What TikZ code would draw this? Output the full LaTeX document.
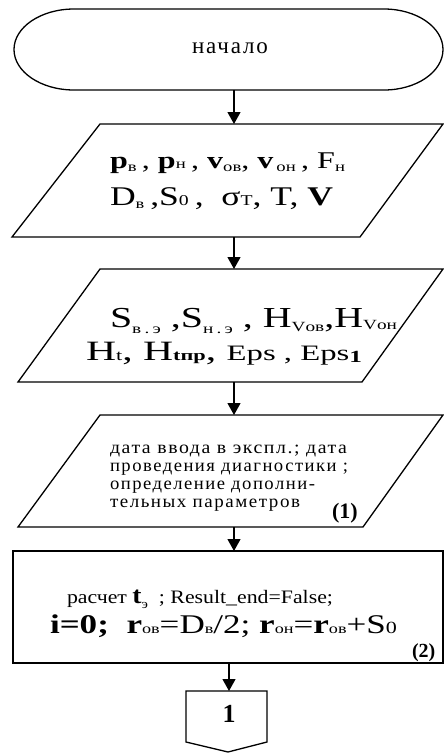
\documentclass[tikz,border=0pt]{standalone}
\usepackage{fontspec}
\usepackage{graphicx}
\setmainfont{Liberation Serif}
\newfontfamily\wideserif[LetterSpace=8]{Liberation Serif}
\usetikzlibrary{arrows.meta}
\newcommand{\fs}[1]{\fontsize{#1}{#1}\selectfont}
\newcommand{\dn}[3]{\raisebox{-#1pt}{\fontsize{#2}{#2}\selectfont #3}}
\newcommand{\fitw}[2]{\resizebox{#1pt}{\height}{#2}}
\begin{document}
\begin{tikzpicture}[x=1pt,y=-1pt,
  outline/.style={draw, line width=1.3pt, line join=miter},
  flow/.style={-{Triangle[length=12pt,width=13pt]}, line width=1.2pt},
  txt/.style={anchor=base west, inner sep=0pt, outer sep=0pt}]
\useasboundingbox (0,0) rectangle (444,753);
% terminator
\draw[outline] (74,9) -- (384,9) arc[start angle=-90, end angle=90, x radius=59, y radius=40.5]
  -- (74,90) arc[start angle=90, end angle=270, x radius=60, y radius=40.5] -- cycle;
\node[inner sep=0pt] (start) at (230,48) {\wideserif\fs{23}начало};
\coordinate (startbot) at (234,90);
% parallelogram 1
\draw[outline] (100,124) -- (443,124) -- (360,237) -- (12,237) -- cycle;
\coordinate (p1top) at (234,124);
\coordinate (p1bot) at (234,237);
\node[txt] (p1a) at (110,168) {\fitw{235}{\fs{24}\textbf{p}\dn{3}{14}{в}\,, \textbf{p}\dn{0}{14}{н}\,, \textbf{v}\dn{3}{14}{ов}, \textbf{v}\dn{3}{14}{\,он}\,, F\dn{3}{14}{н}}};
\node[txt] (p1b) at (110,205) {\fitw{223}{\fs{27}D\dn{3}{14}{в}\,,S\dn{0}{15}{0}\,, \ σ\dn{0}{15}{T}, T, \textbf{V}}};
% parallelogram 2
\draw[outline] (100,269) -- (443,269) -- (362,382) -- (18,382) -- cycle;
\coordinate (p2top) at (234,269);
\coordinate (p2bot) at (234,382);
\node[txt] (p2a) at (110,327) {\fitw{287}{\fs{29}S\dn{6}{14}{в\,.\,э}\ ,S\dn{6}{14}{н\,.\,э}\ , H\dn{4}{14}{Vов},H\dn{2}{14}{Vон}}};
\node[txt] (p2b) at (86,360) {\fitw{276}{\fs{28}H\dn{0}{15}{t}, H\dn{0}{15}{\textbf{tпр}}, {\fs{22}Eps , Eps\dn{2}{17}{\textbf{1}}}}};
% parallelogram 3
\draw[outline] (100,415) -- (443,415) -- (363,527) -- (18,527) -- cycle;
\coordinate (p3top) at (234,415);
\coordinate (p3bot) at (234,527);
\node[txt] (p3a) at (110,453) {\fitw{237}{\wideserif\fs{18}дата ввода в экспл.; дата}};
\node[txt] (p3b) at (110,471) {\fitw{238}{\wideserif\fs{18}проведения диагностики ;}};
\node[txt] (p3c) at (110,489) {\fitw{205}{\wideserif\fs{18}определение дополни-}};
\node[txt] (p3d) at (110,507) {\fitw{190}{\wideserif\fs{18}тельных параметров}};
\node[txt] (n1) at (332,518) {\fs{22}\textbf{(1)}};
% rectangle
\draw[outline] (13,551) rectangle (443,663);
\coordinate (rtop) at (234,551);
\coordinate (rbot) at (229,663);
\node[txt] (ra) at (67,603) {\fitw{266}{\fs{19}расчет {\fs{24}\textbf{t}}\dn{5}{13}{э}\ \ ; Result\_end=False;}};
\node[txt] (rb) at (50,633) {\fitw{347}{\fs{27}\textbf{i=0;}\ \ \textbf{r}\dn{0}{14}{ов}=D\dn{0}{14}{в}/2; \textbf{r}\dn{0}{14}{он}=\textbf{r}\dn{0}{14}{ов}+S\dn{0}{17}{0}}};
\node[txt] (n2) at (412,657) {\fs{20}\textbf{(2)}};
% off-page connector
\draw[outline] (186,691) -- (267,691) -- (267,742) -- (228,752) -- (186,742) -- cycle;
\coordinate (ctop) at (229,691);
\node[inner sep=0pt] (c1) at (229,714) {\fs{26}\textbf{1}};
% flows
\draw[flow] (startbot) -- (p1top);
\draw[flow] (p1bot) -- (p2top);
\draw[flow] (p2bot) -- (p3top);
\draw[flow] (p3bot) -- (rtop);
\draw[flow] (rbot) -- (ctop);
\end{tikzpicture}
\end{document}
